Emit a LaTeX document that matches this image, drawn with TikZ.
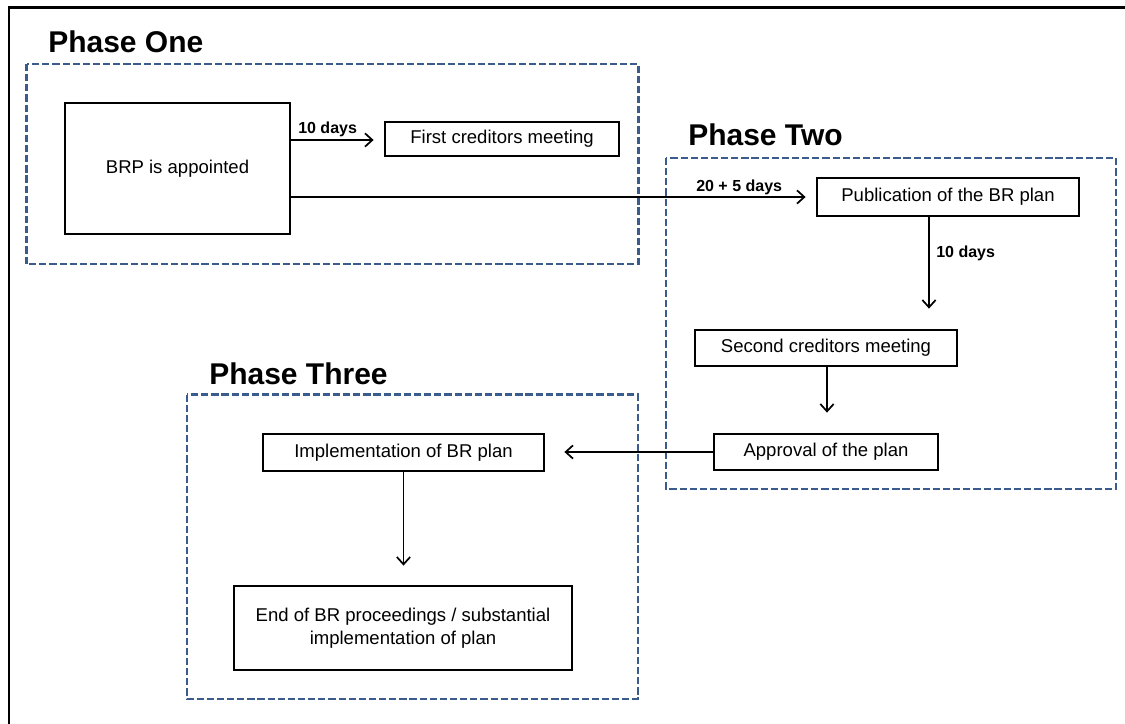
\documentclass[tikz,border=0pt]{standalone}
\usepackage{fontspec}
\setmainfont{Liberation Sans}
\usetikzlibrary{arrows.meta}
\definecolor{phaseblue}{RGB}{58,92,140}
\newcommand\mybody{\fontsize{13.9}{17.25}\selectfont}
\newcommand\mytitle{\fontsize{22.5}{27}\selectfont\bfseries}
\newcommand\mylabel{\fontsize{12}{14}\selectfont\bfseries}
\begin{document}
\begin{tikzpicture}[x=0.75pt,y=-0.75pt,
  proc/.style={draw, line width=2.1pt, inner sep=0pt, align=center, font=\mybody},
  phasebox/.style={draw=phaseblue, line width=2.2pt, dash pattern=on 5.4pt off 2.2pt},
  phasetitle/.style={anchor=base west, inner sep=0pt, font=\mytitle},
  lbl/.style={anchor=base west, inner sep=0pt, font=\mylabel},
  arr/.style={line width=1.3pt, -{Straight Barb[length=5.5pt,width=10pt,line width=1.3pt]}},
  frame/.style={line width=1.8pt}
]
\useasboundingbox (0,0) rectangle (1125,724);
% outer frame (top and left only)
\coordinate (fbl) at (9,724);
\coordinate (ftl) at (9,7.5);
\coordinate (ftr) at (1125,7.5);
\draw[frame] (fbl) -- (ftl) -- (ftr);

% phase boxes
\draw[phasebox] (26.5,64) rectangle (638.5,264);
\draw[phasebox] (666,158) rectangle (1116,489);
\draw[phasebox] (187,394.5) rectangle (638,699);

% titles
\node[phasetitle] (t1) at (48,53) {Phase One};
\node[phasetitle] (t2) at (688,146) {Phase Two};
\node[phasetitle] (t3) at (209,384) {Phase Three};

% process boxes
\node[proc, minimum width={225*0.75pt}, minimum height={131*0.75pt}] (brp) at (177.5,168.5) {BRP is appointed};
\node[proc, minimum width={234*0.75pt}, minimum height={34*0.75pt}] (first) at (502,139) {First creditors meeting};
\node[proc, minimum width={262*0.75pt}, minimum height={38*0.75pt}] (pub) at (948,197) {Publication of the BR plan};
\node[proc, minimum width={262*0.75pt}, minimum height={36*0.75pt}] (second) at (826,348) {Second creditors meeting};
\node[proc, minimum width={224*0.75pt}, minimum height={36*0.75pt}] (appr) at (826,452) {Approval of the plan};
\node[proc, minimum width={281*0.75pt}, minimum height={37*0.75pt}] (impl) at (403.5,452.5) {Implementation of BR plan};
\node[proc, minimum width={338*0.75pt}, minimum height={84*0.75pt}] (endp) at (403,628) {End of BR proceedings / substantial\\implementation of plan};

% helper x positions
\coordinate (xa) at (929,0);
\coordinate (xb) at (827,0);
\coordinate (ya) at (0,140);

% connectors
\draw[arr, shorten >={10*0.75pt}] (brp.east |- ya) -- (first.west |- ya);
\draw[arr, shorten >={10*0.75pt}] (brp.east |- pub.west) -- (pub.west);
\draw[arr, shorten >={20*0.75pt}] (pub.south -| xa) -- (second.north -| xa);
\draw[arr, shorten >={20*0.75pt}] (second.south -| xb) -- (appr.north -| xb);
\draw[arr, shorten >={19*0.75pt}] (appr.west) -- (impl.east |- appr.west);
\draw[arr, shorten >={19*0.75pt}] (impl.south) -- (endp.north -| impl.south);

% labels
\node[lbl] (l1) at (298,133) {10 days};
\node[lbl] (l2) at (696,191) {20 + 5 days};
\node[lbl] (l3) at (936,257) {10 days};
\end{tikzpicture}
\end{document}
